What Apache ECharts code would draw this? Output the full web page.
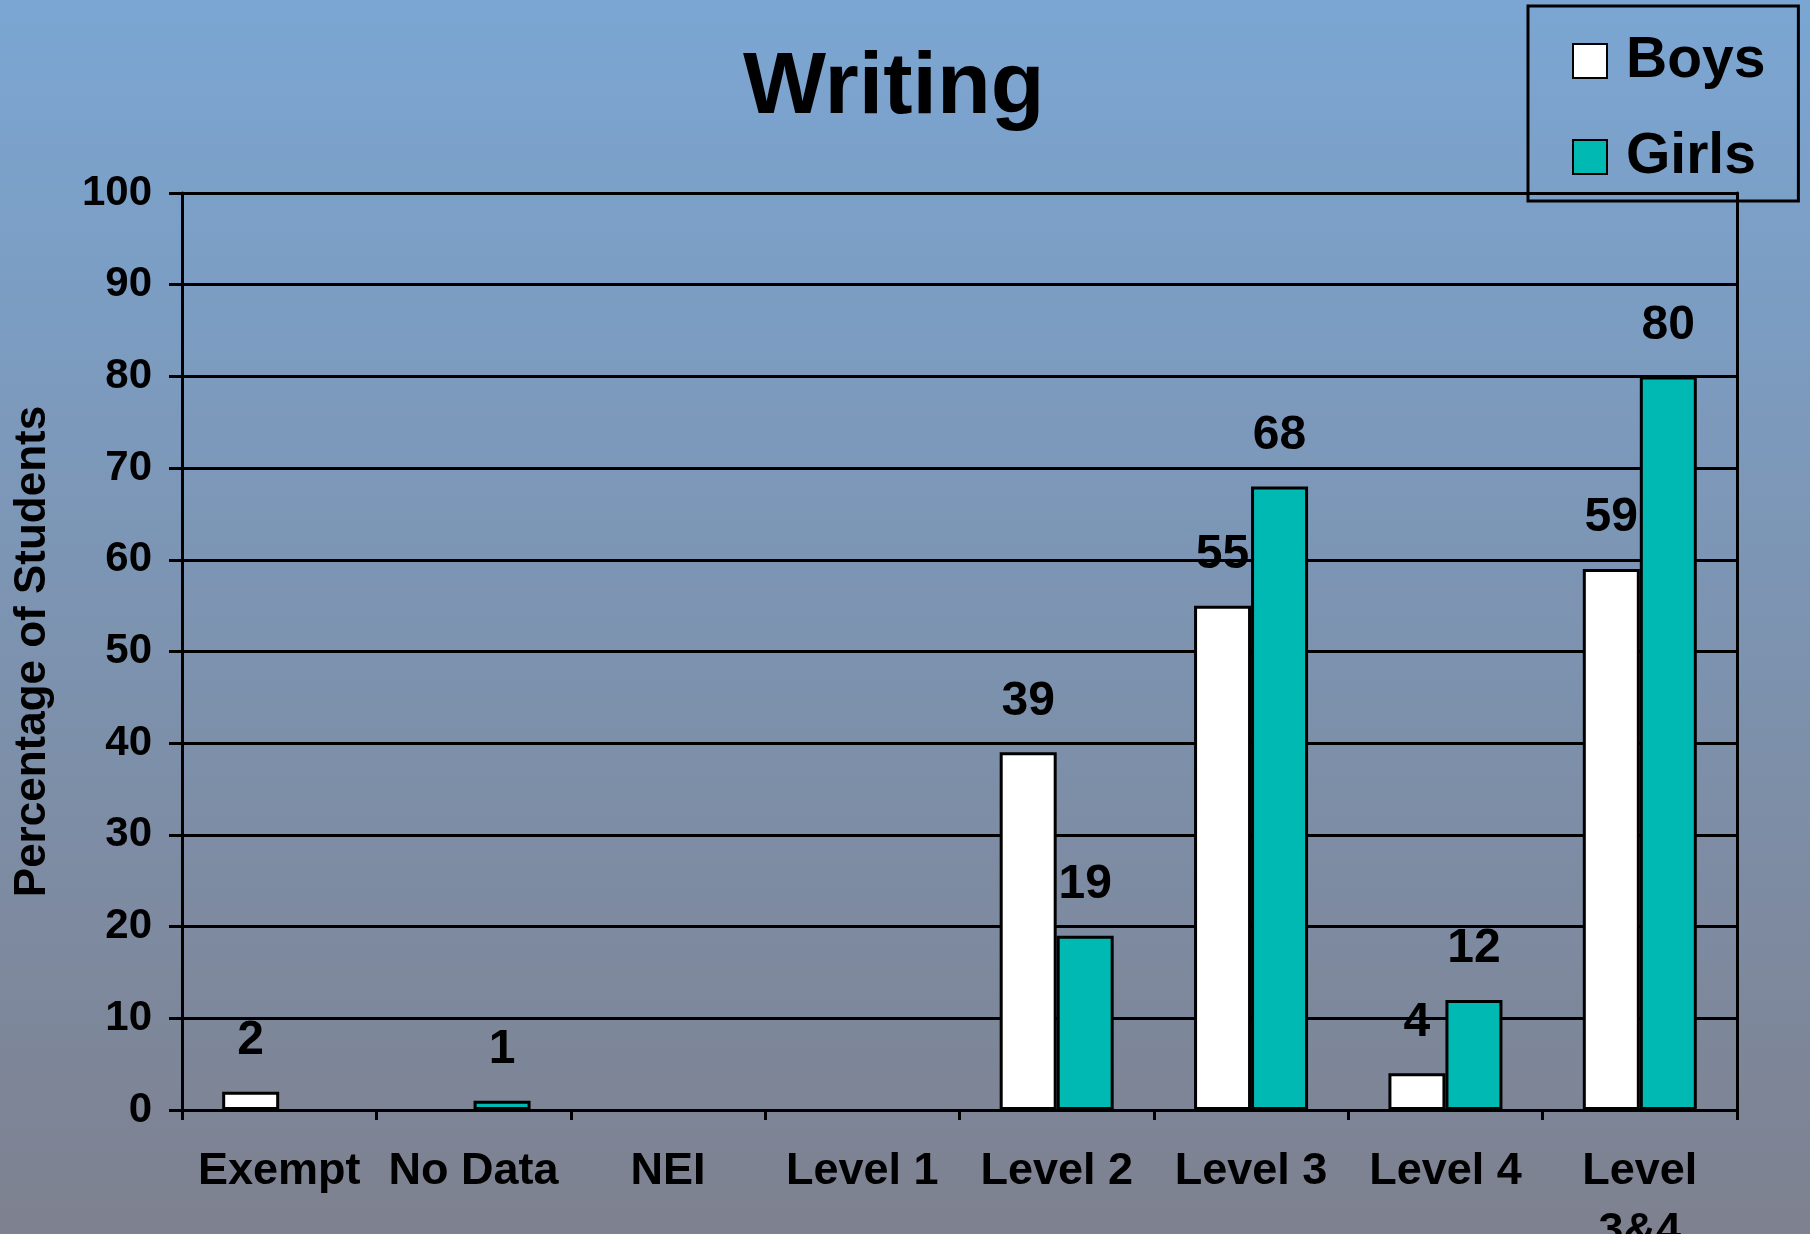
<!DOCTYPE html>
<html>
<head>
<meta charset="utf-8">
<script src="https://cdn.jsdelivr.net/npm/echarts@6/dist/echarts.min.js"></script>
<style>
  html, body { margin: 0; padding: 0; }
  #chart { width: 1810px; height: 1234px; }
</style>
</head>
<body>
<div id="chart"></div>
<script>
const categories = ['Exempt', 'No Data', 'NEI', 'Level 1', 'Level 2', 'Level 3', 'Level 4', 'Level 3&4'];
const boys = [2, 0, 0, 0, 39, 55, 4, 59];
const girls = [0, 1, 0, 0, 19, 68, 12, 80];
const yTicks = { min: 0, max: 100, interval: 10 };
const chartTitle = 'Writing';
const yTitle = 'Percentage of Students';

const FONT = "'Liberation Sans', Arial, sans-serif";
const labelCfg = {
  show: true,
  position: 'top',
  distance: 27,
  color: '#000',
  fontFamily: FONT,
  fontWeight: 'bold',
  fontSize: 48
};
// zero values are not drawn in the reference (no bar, no label)
const hideZero = arr => arr.map(v => (v === 0 ? '-' : v));

const chart = echarts.init(document.getElementById('chart'));
chart.setOption({
  animation: false,
  backgroundColor: {
    type: 'linear', x: 0, y: 0, x2: 0, y2: 1,
    colorStops: [
      { offset: 0, color: '#7BA6D3' },
      { offset: 1, color: '#7E818F' }
    ]
  },
  title: {
    text: chartTitle,
    left: 743,
    top: 45,
    padding: 0,
    textStyle: { fontFamily: FONT, fontWeight: 'bold', fontSize: 88, color: '#000', lineHeight: 88 }
  },
  legend: {
    orient: 'vertical',
    left: 1528,
    top: 6,
    padding: [25, 33, 14, 44],
    itemWidth: 34,
    itemHeight: 34,
    itemGap: 36,
    borderColor: '#000',
    borderWidth: 3,
    icon: 'rect',
    textStyle: { fontFamily: FONT, fontWeight: 'bold', fontSize: 57, lineHeight: 60, color: '#000', padding: [0, 0, 0, 14] },
    data: ['Boys', 'Girls']
  },
  grid: { left: 182, right: 73, top: 193, bottom: 124, containLabel: false, outerBoundsMode: 'none' },
  xAxis: {
    type: 'category',
    data: categories,
    axisLine: { show: true, lineStyle: { color: '#000', width: 3 } },
    axisTick: { show: true, length: 10, interval: 0, alignWithLabel: false, lineStyle: { color: '#000', width: 3 } },
    axisLabel: {
      interval: 0,
      margin: 32,
      color: '#000',
      fontFamily: FONT,
      fontWeight: 'bold',
      fontSize: 45,
      lineHeight: 60,
      formatter: v => v.replace(' 3&4', '\n3&4')
    },
    splitLine: { show: false }
  },
  yAxis: [{
    type: 'value',
    min: yTicks.min,
    max: yTicks.max,
    interval: yTicks.interval,
    name: yTitle,
    nameLocation: 'middle',
    nameGap: 127,
    nameRotate: 90,
    nameTextStyle: { fontFamily: FONT, fontWeight: 'bold', fontSize: 44, color: '#000' },
    axisLine: { show: true, lineStyle: { color: '#000', width: 3 } },
    axisTick: { show: true, length: 13, lineStyle: { color: '#000', width: 3 } },
    axisLabel: { margin: 30, color: '#000', fontFamily: FONT, fontWeight: 'bold', fontSize: 42 },
    splitLine: { show: true, lineStyle: { color: '#000', width: 3 } }
  }, {
    type: 'value',
    position: 'right',
    min: yTicks.min,
    max: yTicks.max,
    interval: yTicks.interval,
    axisLine: { show: true, lineStyle: { color: '#000', width: 3 } },
    axisTick: { show: false },
    axisLabel: { show: false },
    splitLine: { show: false }
  }],
  series: [{
    name: 'Boys',
    type: 'bar',
    data: hideZero(boys),
    barWidth: 57,
    barGap: '0%',
    itemStyle: { color: '#FFFFFF', borderColor: '#000', borderWidth: 3 },
    label: labelCfg
  }, {
    name: 'Girls',
    type: 'bar',
    data: hideZero(girls),
    barWidth: 57,
    barGap: '0%',
    itemStyle: { color: '#00B9B3', borderColor: '#000', borderWidth: 3 },
    label: labelCfg
  }]
});
</script>
</body>
</html>
